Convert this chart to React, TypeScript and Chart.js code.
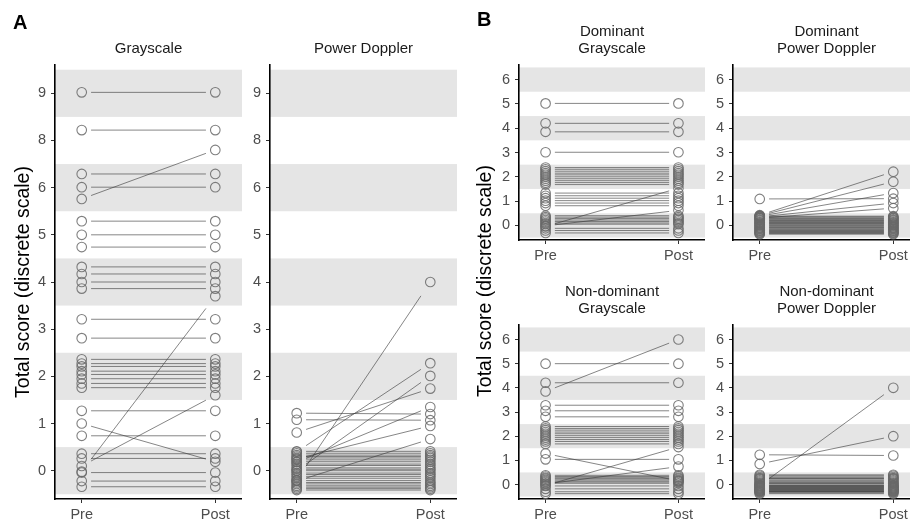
import React, { useEffect, useRef } from "react";
import { Chart, registerables } from "chart.js";

Chart.register(...registerables);

// ---------- data ----------
const xLabels = ["Pre", "Post"];
const aScoreLabels = ["0", "1", "2", "3", "4", "5", "6", "8", "9"];
const bScoreLabels = ["0", "1", "2", "3", "4", "5", "6"];
const aBands = [0, 2, 4, 6, 8];
const bBands = [0, 2, 4, 6];

// positions on the discrete (category-index) scale, with jitter
const aGrayPre = [8.02, 7.22, 5.76, 6.29, 6.01, 5.29, 5.0, 4.74, 4.32, 4.17, 4.0, 3.86, 3.21, 2.81, 2.36, 2.27, 2.21, 2.11, 2.04, 1.95, 1.85, 1.76, 1.27, 1.0, 0.74, 0.36, 0.26, 0.1, -0.02, -0.04, -0.22, -0.34];
const aGrayPost = [8.02, 7.22, 6.8, 6.29, 6.01, 5.29, 5.0, 4.74, 4.32, 4.17, 4.0, 3.86, 3.21, 2.81, 2.36, 2.27, 2.21, 2.11, 2.04, 1.95, 1.85, 1.76, 1.27, 0.19, 0.74, 0.36, 0.26, 1.6, 3.7, -0.04, -0.22, -0.34];

const aPdPre = [1.22, 1.08, 0.81, 0.4, 0.0, 0.18, 0.25, -0.22, -0.2, 0.41, 0.37, 0.33, 0.3, 0.27, 0.23, 0.19, 0.14, 0.11, 0.06, 0.03, 0.0, -0.05, -0.08, -0.12, -0.16, -0.21, -0.25, -0.28, -0.32, -0.35, -0.38, -0.41];
const aPdPost = [1.2, 1.07, 1.74, 2.28, 2.01, 1.35, 0.95, 0.67, 4.0, 0.41, 0.37, 0.33, 0.3, 0.27, 0.23, 0.19, 0.14, 0.11, 0.06, 0.03, 0.0, -0.05, -0.08, -0.12, -0.16, -0.21, -0.25, -0.28, -0.32, -0.35, -0.38, -0.41];

const bDomGrayPre = [5.02, 4.2, 3.85, 3.01, 2.38, 2.31, 2.23, 2.15, 2.08, 2.0, 1.92, 1.84, 1.76, 1.68, 1.33, 1.22, 1.12, 1.02, 0.92, 0.81, -0.04, -0.02, 0.4, 0.34, 0.28, 0.22, 0.16, 0.1, 0.05, -0.12, -0.21, -0.31];
const bDomGrayPost = [5.02, 4.2, 3.85, 3.01, 2.38, 2.31, 2.23, 2.15, 2.08, 2.0, 1.92, 1.84, 1.76, 1.68, 1.33, 1.22, 1.12, 1.02, 0.92, 0.81, 1.53, 0.62, 0.4, 0.34, 0.28, 0.22, 0.16, 0.1, 0.05, -0.12, -0.21, -0.31];

const bDomPdPre = [1.09, 0.42, 0.4, 0.38, 0.35, 0.3, 0.38, 0.35, 0.31, 0.29, 0.25, 0.22, 0.2, 0.16, 0.13, 0.11, 0.08, 0.05, 0.02, -0.01, -0.04, -0.08, -0.1, -0.14, -0.16, -0.2, -0.22, -0.25, -0.28, -0.3, -0.33, -0.36];
const bDomPdPost = [1.1, 2.21, 1.8, 1.33, 0.92, 0.71, 0.38, 0.35, 0.31, 0.29, 0.25, 0.22, 0.2, 0.16, 0.13, 0.11, 0.08, 0.05, 0.02, -0.01, -0.04, -0.08, -0.1, -0.14, -0.16, -0.2, -0.22, -0.25, -0.28, -0.3, -0.33, -0.36];

const bNdGrayPre = [5.0, 4.21, 3.85, 3.28, 3.05, 2.8, 2.4, 2.32, 2.25, 2.17, 2.1, 2.02, 1.94, 1.86, 1.78, 1.68, 1.28, 1.04, -0.04, 0.02, 0.38, 0.33, 0.28, 0.24, 0.19, 0.14, 0.1, 0.05, -0.06, -0.18, -0.3, -0.38];
const bNdGrayPost = [5.0, 4.21, 6.0, 3.28, 3.05, 2.8, 2.4, 2.32, 2.25, 2.17, 2.1, 2.02, 1.94, 1.86, 1.78, 1.68, 0.15, 1.04, 1.55, 0.74, 0.38, 0.33, 0.28, 0.24, 0.19, 0.14, 0.1, 0.05, -0.06, -0.18, -0.3, -0.38];

const bNdPdPre = [1.23, 0.85, -0.04, 0.4, 0.36, 0.31, 0.27, 0.25, 0.22, 0.17, 0.12, 0.08, 0.05, 0.03, -0.02, -0.04, -0.06, -0.08, -0.1, -0.12, -0.14, -0.16, -0.18, -0.2, -0.22, -0.24, -0.26, -0.28, -0.29, -0.31, -0.34, -0.38];
const bNdPdPost = [1.2, 2.0, 4.0, 0.4, 0.36, 0.31, 0.27, 0.25, 0.22, 0.17, 0.12, 0.08, 0.05, 0.03, -0.02, -0.04, -0.06, -0.08, -0.1, -0.12, -0.14, -0.16, -0.18, -0.2, -0.22, -0.24, -0.26, -0.28, -0.29, -0.31, -0.34, -0.38];

// ---------- styling / layout ----------
const FONT = "'Liberation Sans', Arial, Helvetica, sans-serif";
const YW = 30; // y-axis box width
const XH = 24; // x-axis box height
const LH = 17.6; // title line height
const LINE_COLOR = "rgba(60,60,60,0.62)";
const POINT_COLOR = "rgba(105,105,105,0.85)";
const BAND_COLOR = "#e5e5e5";
const E = 0.07;

type Spec = {
  key: string;
  title: string[];
  labels: string[];
  bands: number[];
  pre: number[];
  post: number[];
  l: number; r: number; t: number; b: number;
  canvasTop: number;
  firstLine: number;
};

const panels: Spec[] = [
  { key: "ag", title: ["Grayscale"], labels: aScoreLabels, bands: aBands, pre: aGrayPre, post: aGrayPost, l: 55, r: 242, t: 65, b: 499, canvasTop: 20, firstLine: 49 },
  { key: "ap", title: ["Power Doppler"], labels: aScoreLabels, bands: aBands, pre: aPdPre, post: aPdPost, l: 270, r: 457, t: 65, b: 499, canvasTop: 20, firstLine: 49 },
  { key: "bdg", title: ["Dominant", "Grayscale"], labels: bScoreLabels, bands: bBands, pre: bDomGrayPre, post: bDomGrayPost, l: 519, r: 705, t: 65, b: 240, canvasTop: 20, firstLine: 31.7 },
  { key: "bdp", title: ["Dominant", "Power Doppler"], labels: bScoreLabels, bands: bBands, pre: bDomPdPre, post: bDomPdPost, l: 733, r: 920, t: 65, b: 240, canvasTop: 20, firstLine: 31.7 },
  { key: "bng", title: ["Non-dominant", "Grayscale"], labels: bScoreLabels, bands: bBands, pre: bNdGrayPre, post: bNdGrayPost, l: 519, r: 705, t: 325, b: 499, canvasTop: 270, firstLine: 291.7 },
  { key: "bnp", title: ["Non-dominant", "Power Doppler"], labels: bScoreLabels, bands: bBands, pre: bNdPdPre, post: bNdPdPost, l: 733, r: 920, t: 325, b: 499, canvasTop: 270, firstLine: 291.7 },
];

const bandPlugin = {
  id: "bands",
  beforeDraw(chart: any, _args: any, opts: any) {
    const { ctx, chartArea: a, scales } = chart;
    const y = scales.y;
    ctx.save();
    ctx.fillStyle = opts.color;
    for (const p of opts.positions as number[]) {
      const y1 = Math.max(y.getPixelForValue(p + 0.5), a.top);
      const y2 = Math.min(y.getPixelForValue(p - 0.5), a.bottom);
      if (y2 > y1) ctx.fillRect(a.left, y1, a.right - a.left, y2 - y1);
    }
    ctx.restore();
  },
};

function makeConfig(s: Spec): any {
  const pt = s.firstLine - LH / 2 - s.canvasTop;
  const pb = s.t - s.canvasTop - pt - s.title.length * LH;
  const lineSets = s.pre.map((p, i) => {
    const q = s.post[i];
    return {
      data: [
        { x: 1 + E, y: p + E * (q - p) },
        { x: 2 - E, y: q - E * (q - p) },
      ],
      showLine: true,
      pointRadius: 0,
      pointHoverRadius: 0,
      borderColor: LINE_COLOR,
      borderWidth: 1,
      backgroundColor: "rgba(0,0,0,0)",
    };
  });
  const pointSet = {
    data: [
      ...s.pre.map((v) => ({ x: 1, y: v })),
      ...s.post.map((v) => ({ x: 2, y: v })),
    ],
    showLine: false,
    pointRadius: 4.8,
    pointHoverRadius: 4.8,
    pointBorderWidth: 1.1,
    borderWidth: 1.1,
    pointBorderColor: POINT_COLOR,
    borderColor: POINT_COLOR,
    pointBackgroundColor: "rgba(0,0,0,0)",
    backgroundColor: "rgba(0,0,0,0)",
  };
  const maxY = s.labels.length - 1 + 0.6;
  const tickFont = { family: FONT, size: 14.5 };
  return {
    type: "scatter",
    data: { datasets: [pointSet, ...lineSets] },
    plugins: [bandPlugin],
    options: {
      responsive: false,
      animation: false,
      devicePixelRatio: 1,
      events: [],
      layout: { padding: 0, autoPadding: false },
      plugins: {
        legend: { display: false },
        tooltip: { enabled: false },
        title: {
          display: true,
          text: s.title,
          fullSize: false,
          color: "#1a1a1a",
          font: { family: FONT, size: 15, weight: "normal", lineHeight: LH / 15 },
          padding: { top: pt, bottom: pb },
        },
        bands: { positions: s.bands, color: BAND_COLOR },
      },
      scales: {
        x: {
          type: "linear",
          min: 0.8,
          max: 2.2,
          afterBuildTicks: (axis: any) => {
            axis.ticks = [{ value: 1 }, { value: 2 }];
          },
          afterFit: (axis: any) => {
            axis.height = XH;
          },
          ticks: {
            callback: (_v: any, i: number) => xLabels[i],
            color: "#4d4d4d",
            font: tickFont,
            padding: 3,
            autoSkip: false,
            maxRotation: 0,
          },
          grid: { display: true, drawOnChartArea: false, drawTicks: true, tickLength: 4, tickColor: "#333", tickWidth: 1 },
          border: { display: true, color: "#000", width: 1.6 },
        },
        y: {
          type: "linear",
          min: -0.6,
          max: maxY,
          afterBuildTicks: (axis: any) => {
            axis.ticks = s.labels.map((_l, i) => ({ value: i }));
          },
          afterFit: (axis: any) => {
            axis.width = YW;
          },
          ticks: {
            callback: (_v: any, i: number) => s.labels[i],
            color: "#4d4d4d",
            font: tickFont,
            padding: 5,
            autoSkip: false,
          },
          grid: { display: true, drawOnChartArea: false, drawTicks: true, tickLength: 4, tickColor: "#333", tickWidth: 1 },
          border: { display: true, color: "#000", width: 1.6 },
        },
      },
    },
  };
}

function Panel({ spec }: { spec: Spec }) {
  const ref = useRef<HTMLCanvasElement>(null);
  const left = spec.l - YW;
  const w = spec.r - left;
  const h = spec.b + XH - spec.canvasTop;
  useEffect(() => {
    if (!ref.current) return;
    const chart = new Chart(ref.current, makeConfig(spec));
    return () => chart.destroy();
  }, [spec]);
  return (
    <canvas
      ref={ref}
      width={w}
      height={h}
      style={{ position: "absolute", left, top: spec.canvasTop, width: w, height: h }}
    />
  );
}

const letterStyle = (left: number, top: number): React.CSSProperties => ({
  position: "absolute",
  left,
  top,
  fontFamily: FONT,
  fontWeight: "bold",
  fontSize: 20,
  lineHeight: "20px",
  color: "#000",
});

const yTitleStyle = (cx: number, cy: number): React.CSSProperties => ({
  position: "absolute",
  left: cx,
  top: cy,
  transform: "translate(-50%, -50%) rotate(-90deg)",
  whiteSpace: "nowrap",
  fontFamily: FONT,
  fontSize: 19.5,
  lineHeight: 1,
  color: "#000",
});

export default function App() {
  return (
    <div
      style={{
        position: "absolute",
        left: 0,
        top: 0,
        width: 910,
        height: 522,
        overflow: "hidden",
        background: "#fff",
      }}
    >
      {panels.map((p) => (
        <Panel key={p.key} spec={p} />
      ))}
      <div style={letterStyle(13, 12)}>A</div>
      <div style={letterStyle(477, 9)}>B</div>
      <div style={yTitleStyle(22.5, 281.5)}>Total score (discrete scale)</div>
      <div style={yTitleStyle(485, 281)}>Total score (discrete scale)</div>
    </div>
  );
}
